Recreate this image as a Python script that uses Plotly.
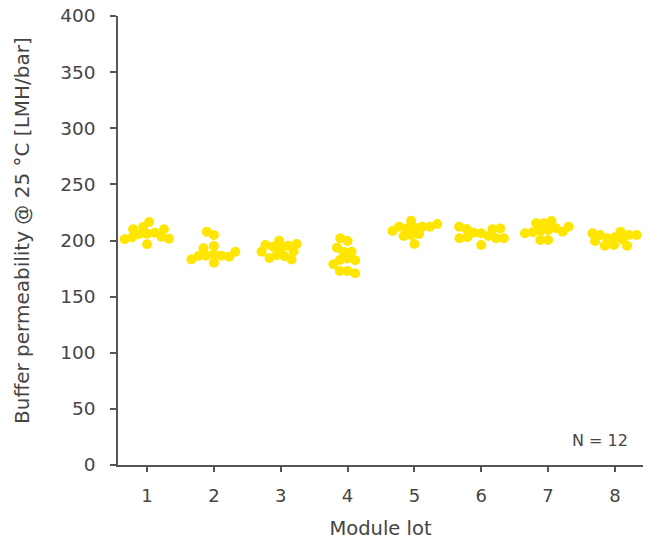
import math
import plotly.graph_objects as go

# ---- data ----
lots = [1, 2, 3, 4, 5, 6, 7, 8]
lot1 = [216.5, 212.0, 210.0, 210.0, 207.0, 206.0, 205.8, 203.4, 202.9, 201.6, 201.1, 196.6]
lot2 = [207.8, 204.9, 195.1, 193.0, 190.0, 187.7, 186.5, 186.5, 186.2, 185.6, 183.2, 180.2]
lot3 = [199.8, 196.9, 196.0, 195.4, 194.5, 193.0, 190.5, 190.0, 187.0, 186.0, 184.5, 183.0]
lot4 = [202.0, 199.6, 193.6, 190.0, 190.0, 184.0, 182.6, 182.4, 178.8, 172.8, 172.8, 170.8]
lot5 = [217.7, 214.7, 212.3, 212.3, 212.3, 211.4, 210.8, 208.5, 205.8, 204.9, 204.0, 196.9]
lot6 = [212.3, 210.8, 210.2, 210.0, 207.0, 206.4, 204.0, 202.9, 202.0, 202.0, 202.0, 196.0]
lot7 = [217.4, 215.3, 215.3, 212.3, 211.0, 209.4, 208.5, 207.8, 207.3, 206.4, 200.4, 200.4]
lot8 = [207.8, 206.4, 204.9, 204.9, 204.9, 202.9, 202.0, 201.0, 199.6, 196.0, 195.4, 195.4]
groups = [lot1, lot2, lot3, lot4, lot5, lot6, lot7, lot8]
y_ticks = [0, 50, 100, 150, 200, 250, 300, 350, 400]

# ---- layout geometry (page body margin removed below) ----
W, H = 652, 541
ML, MR, MT, MB = 118, 9, 16, 76
X_RANGE = [0.565, 8.42]
Y_RANGE = [0, 400]
MARKER = 10
PLOT_W = W - ML - MR
PLOT_H = H - MT - MB
px_per_x = PLOT_W / (X_RANGE[1] - X_RANGE[0])
px_per_y = PLOT_H / (Y_RANGE[1] - Y_RANGE[0])


def swarm(values, d=7.8):
    """Simple deterministic beeswarm: returns x offsets in data units."""
    n = len(values)
    med = sorted(values)[n // 2]
    order = sorted(range(n), key=lambda i: abs(values[i] - med))
    placed = []
    offs = [0.0] * n
    for i in order:
        y = values[i] * px_per_y
        cands = [0.0]
        for xj, yj in placed:
            dy = y - yj
            if abs(dy) < d:
                dx = math.sqrt(d * d - dy * dy)
                cands += [xj + dx, xj - dx]
        cands.sort(key=lambda c: (abs(c), c))
        chosen = cands[-1]
        for c in cands:
            if all((c - xj) ** 2 + (y - yj) ** 2 >= d * d - 1e-6 for xj, yj in placed):
                chosen = c
                break
        placed.append((chosen, y))
        offs[i] = chosen
    return [o / px_per_x for o in offs]


xs, ys = [], []
for lot, vals in zip(lots, groups):
    for o, v in zip(swarm(vals), vals):
        xs.append(lot + o)
        ys.append(v)

FONT = "DejaVu Sans"
TXT = "#454545"
AX = "#555555"

fig = go.Figure()
fig.add_trace(go.Scatter(
    x=xs, y=ys, mode="markers",
    marker=dict(size=MARKER, color="#FFE600", line=dict(width=0)),
    hoverinfo="y", showlegend=False,
))

fig.update_layout(
    width=W, height=H,
    margin=dict(l=ML, r=MR, t=MT, b=MB, pad=0, autoexpand=False),
    paper_bgcolor="white", plot_bgcolor="white",
    font=dict(family=FONT, color=TXT, size=16),
    xaxis=dict(
        range=X_RANGE, tickmode="array", tickvals=lots, ticktext=[str(l) for l in lots],
        showgrid=False, zeroline=False, showline=True, linecolor=AX, linewidth=1.5,
        ticks="outside", ticklen=5, tickwidth=1.5, tickcolor=AX, automargin=False,
        tickfont=dict(size=18, color=TXT, family=FONT), ticklabelstandoff=9,
        ticklabeloverflow="allow",
        title=dict(text="Module lot", font=dict(size=19.5, color=TXT, family=FONT), standoff=16),
    ),
    yaxis=dict(
        range=Y_RANGE, tickmode="array", tickvals=y_ticks,
        showgrid=False, zeroline=False, showline=True, linecolor=AX, linewidth=1.5,
        ticks="outside", ticklen=6, tickwidth=1.5, tickcolor=AX, automargin=False,
        tickfont=dict(size=18.5, color=TXT, family=FONT), ticklabelstandoff=11,
        ticklabeloverflow="allow",
    ),
    annotations=[
        dict(
            text="Buffer permeability @ 25 °C [LMH/bar]",
            xref="paper", yref="paper", x=-96 / PLOT_W, y=(465 - 231) / PLOT_H,
            xanchor="center", yanchor="middle", textangle=-90, showarrow=False,
            font=dict(size=20, color=TXT, family=FONT),
        ),
        dict(
            text="N = 12", xref="paper", yref="paper", x=0.975, y=0.03,
            xanchor="right", yanchor="bottom", showarrow=False,
            font=dict(size=16, color=TXT, family=FONT),
        ),
    ],
)

fig.write_html(
    "out.html",
    config={"displayModeBar": False},
    post_script="document.body.style.margin='0';document.body.style.padding='0';",
)
